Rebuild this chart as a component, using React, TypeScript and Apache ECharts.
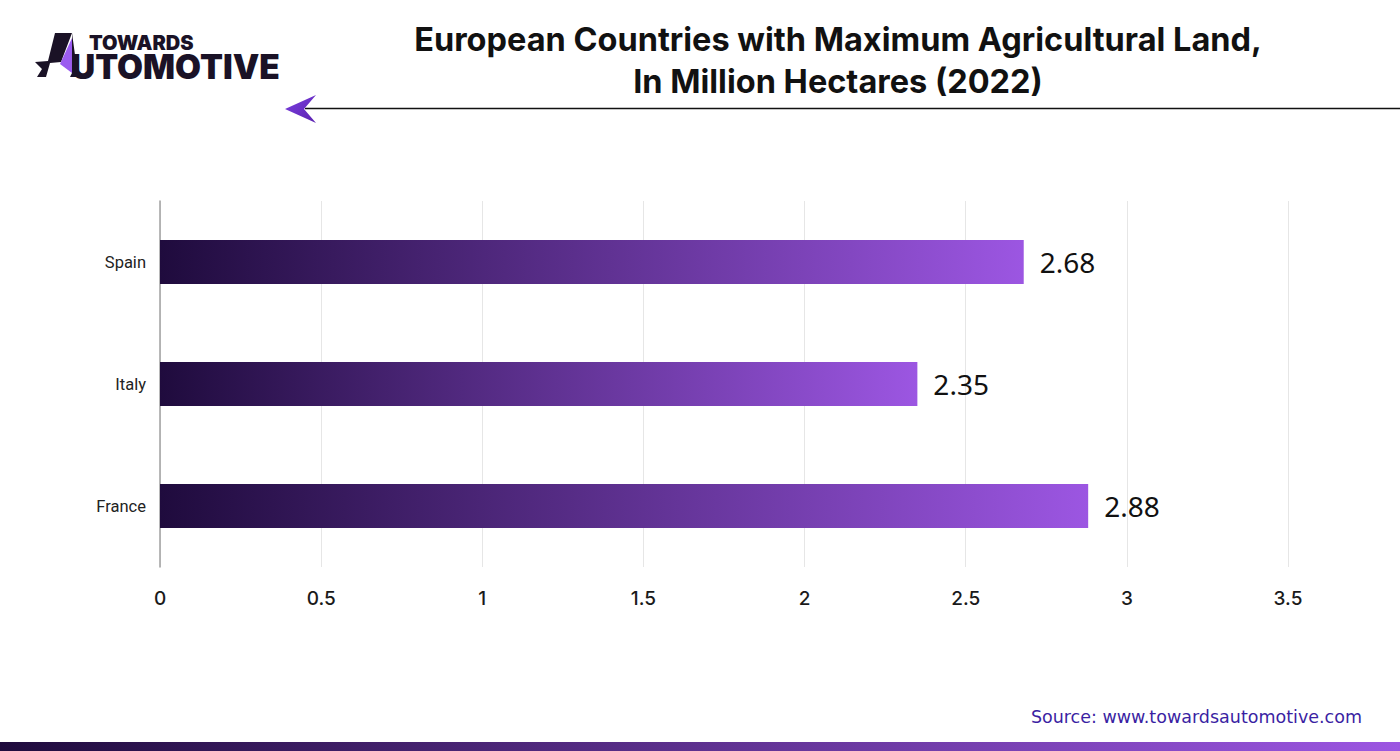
import React, { useEffect, useRef } from "react";
import * as echarts from "echarts";

const categories = ["France", "Italy", "Spain"];
const values = [2.88, 2.35, 2.68];
const axisTicks = [0, 0.5, 1, 1.5, 2, 2.5, 3, 3.5];

const titleLines = [
  "European Countries with Maximum Agricultural Land,",
  "In Million Hectares (2022)",
];
const sourceText = "Source: www.towardsautomotive.com";

export default function App() {
  const ref = useRef<HTMLDivElement>(null);
  useEffect(() => {
    document.body.style.margin = "0";
    if (!ref.current) return;
    const chart = echarts.init(ref.current, null, { renderer: "svg" });
    const dark = "#1f0b3d";
    const light = "#9c56e2";
    chart.setOption({
      animation: false,
      backgroundColor: "#ffffff",
      grid: { left: 160, right: 112, top: 201, bottom: 184, containLabel: false },
      xAxis: {
        type: "value",
        min: 0,
        max: 3.5,
        interval: 0.5,
        axisLine: { show: false },
        axisTick: { show: false },
        splitLine: { show: true, lineStyle: { color: "#e6e6e6", width: 1 } },
        axisLabel: {
          margin: 22,
          fontSize: 19,
          fontFamily: "Inter",
          fontWeight: 500,
          color: "#1a1a1a",
          formatter: (v: number) => (axisTicks.includes(v) ? String(v) : ""),
        },
      },
      yAxis: {
        type: "category",
        data: categories,
        axisLine: { show: true, lineStyle: { color: "#a0a0a0", width: 1.5 } },
        axisTick: { show: false },
        axisLabel: {
          margin: 14,
          fontSize: 16.5,
          fontFamily: "Roboto",
          color: "#222222",
          padding: [8, 0, 0, 0],
        },
      },
      series: [
        {
          type: "bar",
          data: values,
          barWidth: 44,
          itemStyle: {
            color: new echarts.graphic.LinearGradient(0, 0, 1, 0, [
              { offset: 0, color: dark },
              { offset: 1, color: light },
            ]),
          },
          label: {
            show: true,
            position: "right",
            distance: 16,
            fontSize: 28,
            fontFamily: "Noto Sans",
            color: "#111111",
            padding: [0, 0, 4, 0],
            formatter: (p: any) => p.value.toFixed(2),
          },
        },
      ],
      graphic: [
        {
          type: "text",
          x: 838,
          y: 18,
          style: {
            text: titleLines.join("\n"),
            textAlign: "center",
            fontSize: 32.5,
            lineHeight: 42,
            fontWeight: 700,
            fontFamily: "Inter",
            fill: "#111111",
          },
        },
        {
          type: "line",
          shape: { x1: 305, y1: 108.5, x2: 1400, y2: 108.5 },
          style: { stroke: "#111111", lineWidth: 1.5 },
        },
        {
          type: "polygon",
          shape: { points: [[285, 109], [316, 95], [304, 109], [316, 123]] },
          style: {
            fill: new echarts.graphic.LinearGradient(0, 0, 1, 1, [
              { offset: 0, color: "#7b3fe0" },
              { offset: 1, color: "#5b22b0" },
            ]),
          },
        },
        // logo
        {
          type: "polygon",
          shape: { points: [[55, 33], [72, 33], [61, 62], [50, 63], [46, 77], [37, 77], [42, 69], [35, 62], [48, 61]] },
          style: { fill: "#1a1226" },
        },
        {
          type: "polygon",
          shape: { points: [[72, 38], [60, 64], [72, 73]] },
          style: { fill: "#9b5cf0" },
        },
        {
          type: "polygon",
          shape: { points: [[72, 33], [78, 77], [70, 77], [72, 73]] },
          style: { fill: "#1a1226" },
        },
        {
          type: "text",
          x: 71,
          y: 33,
          style: {
            text: "{a|TOWARDS}\n{b|UTOMOTIVE}",
            fill: "#1a1226",
            rich: {
              a: { fontSize: 20, lineHeight: 20, fontWeight: 900, fontFamily: "Inter", fill: "#1a1226", padding: [0, 0, 0, 18] },
              b: { fontSize: 33.5, lineHeight: 27, fontWeight: 900, fontFamily: "Inter", fill: "#1a1226" },
            },
          },
        },
        {
          type: "text",
          x: 1362,
          y: 708,
          style: { text: sourceText, textAlign: "right", fontSize: 17.5, fontFamily: "DejaVu Sans", fill: "#3b1fa3" },
        },
        {
          type: "rect",
          shape: { x: 0, y: 742, width: 1400, height: 9 },
          style: {
            fill: new echarts.graphic.LinearGradient(0, 0, 1, 0, [
              { offset: 0, color: dark },
              { offset: 1, color: light },
            ]),
          },
        },
      ],
    });
    return () => chart.dispose();
  }, []);
  return <div ref={ref} style={{ width: 1400, height: 751 }} />;
}
